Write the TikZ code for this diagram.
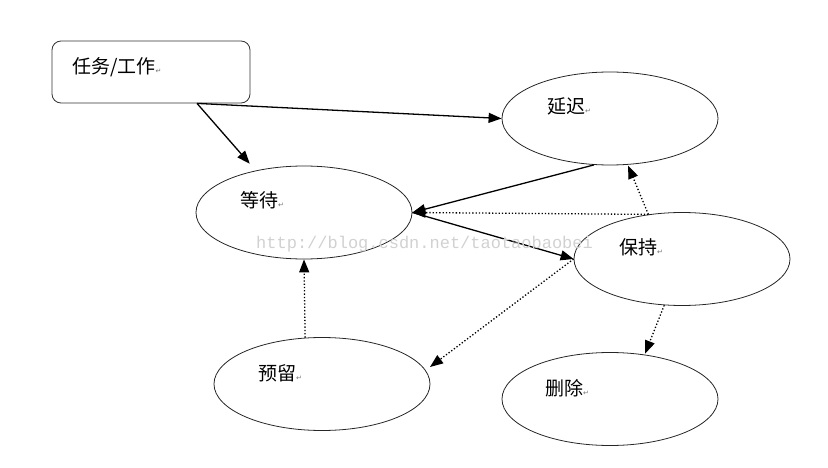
\documentclass[tikz,border=0pt]{standalone}
\usepackage{fontspec}
\setmainfont{Liberation Serif}
\newfontfamily\cjk{Noto Sans CJK SC}
\newfontfamily\symfont{DejaVu Sans}
\newfontfamily\wmfont{Liberation Mono}
\usetikzlibrary{arrows.meta,shapes.geometric}
\newcommand{\pmark}{{\symfont\fontsize{7}{7}\selectfont\color{black!55}\raisebox{-0.5pt}{↵}}}
\tikzset{
  stateell/.style={draw=black!85, line width=0.8pt, ellipse, minimum width=216pt, minimum height=93pt, inner sep=0pt},
  lbl/.style={anchor=west, inner sep=0pt, font=\cjk\fontsize{19}{19}\selectfont},
  solidarrow/.style={line width=1.3pt, -{Triangle[length=13pt,width=10pt]}},
  dotarrow/.style={line width=1.3pt, dotted, -{Triangle[length=13pt,width=10pt]}},
}
\begin{document}
\begin{tikzpicture}[x=1pt,y=-1pt]
\useasboundingbox (0,0) rectangle (828,468);
% nodes
\node[draw=black!80, line width=0.8pt, rounded corners=9pt, minimum width=198pt, minimum height=62pt, inner sep=0pt] (task) at (151,72) {};
\node[stateell] (delay) at (610,118.5) {};
\node[stateell] (wait) at (304,212.5) {};
\node[stateell] (hold) at (682,259) {};
\node[stateell] (res) at (322,384) {};
\node[stateell] (del) at (610,399) {};
% labels
\node[lbl] (tasklbl) at (72,67) {任务/工作\pmark};
\node[lbl] (delaylbl) at (547,106) {延迟\pmark};
\node[lbl] (waitlbl) at (240,200) {等待\pmark};
\node[lbl] (holdlbl) at (619,247) {保持\pmark};
\node[lbl] (reslbl) at (258,373) {预留\pmark};
\node[lbl] (dellbl) at (545,388) {删除\pmark};
% connectors
\coordinate (taskout) at ([xshift=46pt]task.south);
\draw[solidarrow, shorten >=9pt] (taskout) -- (wait.139);
\draw[solidarrow] (taskout) -- (delay.west);
\draw[solidarrow] (delay.-109) -- (wait.east);
\draw[dotarrow] (hold.127) -- (wait.east);
\draw[dotarrow, shorten >=1pt] (hold.127) -- (delay.-69);
\draw[solidarrow] (wait.east) -- (hold.west);
\coordinate (resin) at (430,367);
\draw[dotarrow] (hold.west) -- (resin);
\draw[dotarrow] (res.110) -- (wait.south);
\draw[dotarrow, shorten >=1pt] (hold.-111) -- (del.52);
% watermark
\node[anchor=west, inner sep=0pt, font=\wmfont\fontsize{17}{17}\selectfont, text=black!18] (wm) at (256,244) {http://blog.csdn.net/taotaobaobei};
\end{tikzpicture}
\end{document}
